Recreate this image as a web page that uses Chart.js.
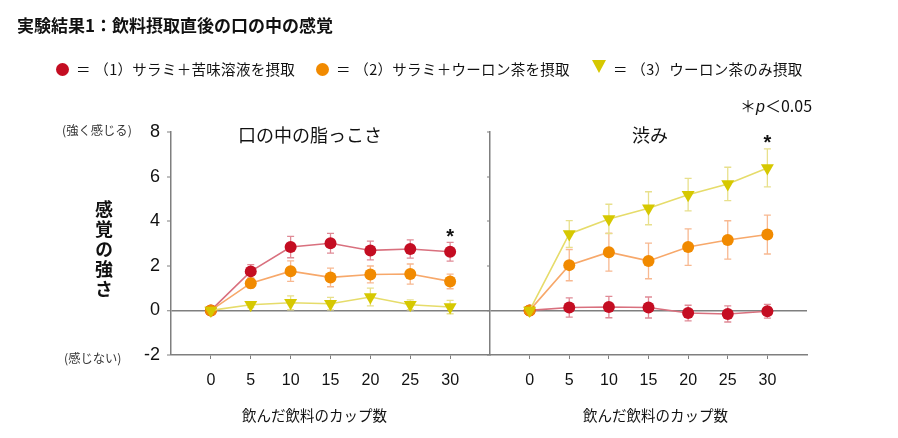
<!DOCTYPE html>
<html lang="ja">
<head>
<meta charset="utf-8">
<script src="https://cdn.jsdelivr.net/npm/chart.js@4.4.0/dist/chart.umd.min.js"></script>
<style>
    body { margin: 0; background: #fff; font-family: "Noto Sans CJK JP", sans-serif; }
    #wrap { position: relative; width: 898px; height: 438px; overflow: hidden; }
    #wrap canvas { position: absolute; left: 0; top: 0; }
    .t { position: absolute; white-space: nowrap; color: #111; line-height: 1; }
    .dot { position: absolute; width: 13px; height: 13px; border-radius: 50%; }
    .tri { position: absolute; width: 0; height: 0; border-left: 7px solid transparent; border-right: 7px solid transparent; border-top: 13px solid #d6c800; }
</style>
</head>
<body>
<div id="wrap">
    <canvas id="fatChart" width="898" height="438"></canvas>
    <canvas id="astrChart" width="898" height="438"></canvas>

    <div class="t" style="left:17px; top:16px; font-size:17px; font-weight:bold;">実験結果1：飲料摂取直後の口の中の感覚</div>

    <div class="dot" style="left:56px; top:63px; background:#c40d22;"></div>
    <div class="t" style="left:76px; top:62px; font-size:14.5px; letter-spacing:0.3px;">＝ （1）サラミ＋苦味溶液を摂取</div>
    <div class="dot" style="left:316px; top:63px; background:#f18a00;"></div>
    <div class="t" style="left:336px; top:62px; font-size:14.5px; letter-spacing:0.3px;">＝ （2）サラミ＋ウーロン茶を摂取</div>
    <div class="tri" style="left:592px; top:60px;"></div>
    <div class="t" style="left:613px; top:62px; font-size:14.5px; letter-spacing:0.3px;">＝ （3）ウーロン茶のみ摂取</div>

    <div class="t" style="left:740px; top:97px; font-size:16px;">＊<i style="font-family:'Liberation Sans';">p</i>＜0.05</div>

    <div class="t" style="left:62px; top:124px; font-size:12.3px; color:#333;">(強く感じる)</div>
    <div class="t" style="left:64px; top:352px; font-size:12.3px; color:#333;">(感じない)</div>
    <div class="t" style="left:95px; top:200px; font-size:18px; font-weight:bold; writing-mode:vertical-rl; letter-spacing:2px;">感覚の強さ</div>

    <div class="t" style="left:238px; top:125px; font-size:18px;">口の中の脂っこさ</div>
    <div class="t" style="left:632px; top:125px; font-size:18px;">渋み</div>

    <div class="t" style="left:242px; top:408px; font-size:14.5px;">飲んだ飲料のカップ数</div>
    <div class="t" style="left:583px; top:408px; font-size:14.5px;">飲んだ飲料のカップ数</div>
</div>

<script>
const cups = [0, 5, 10, 15, 20, 25, 30];
const yTicks = [-2, 0, 2, 4, 6, 8];

// 口の中の脂っこさ
const fatBitter = [0, 1.75, 2.84, 3.01, 2.69, 2.75, 2.63];
const fatBitterErr = [0, 0.3, 0.48, 0.44, 0.42, 0.41, 0.42];
const fatSalamiTea = [0, 1.22, 1.76, 1.48, 1.61, 1.63, 1.3];
const fatSalamiTeaErr = [0, 0.22, 0.46, 0.42, 0.38, 0.45, 0.33];
const fatTea = [0, 0.25, 0.34, 0.3, 0.6, 0.25, 0.15];
const fatTeaErr = [0, 0.12, 0.31, 0.28, 0.4, 0.22, 0.3];

// 渋み
const astrBitter = [0, 0.13, 0.15, 0.13, -0.12, -0.16, -0.04];
const astrBitterErr = [0, 0.43, 0.48, 0.47, 0.35, 0.36, 0.31];
const astrSalamiTea = [0, 2.03, 2.61, 2.22, 2.84, 3.16, 3.4];
const astrSalamiTeaErr = [0, 0.7, 0.85, 0.8, 0.82, 0.86, 0.87];
const astrTea = [0, 3.43, 4.1, 4.58, 5.19, 5.67, 6.39];
const astrTeaErr = [0, 0.6, 0.66, 0.74, 0.73, 0.75, 0.85];

// significance marks (cups, value)
const fatStars = [[30, 3.57]];
const astrStars = [[30, 7.78]];

const AXIS_GRAY = "#7f7f7f";

const errorBars = {
    id: "errorBars",
    beforeDatasetsDraw(chart) {
        const { ctx, scales: { x, y } } = chart;
        chart.data.datasets.forEach(ds => {
            ctx.save();
            ctx.strokeStyle = ds.errorColor;
            ctx.lineWidth = 1.3;
            ds.data.forEach((p, i) => {
                const e = ds.errors[i];
                if (!e) return;
                const px = x.getPixelForValue(p.x);
                const top = y.getPixelForValue(p.y + e);
                const bot = y.getPixelForValue(p.y - e);
                ctx.beginPath();
                ctx.moveTo(px, top); ctx.lineTo(px, bot);
                ctx.moveTo(px - 3.5, top); ctx.lineTo(px + 3.5, top);
                ctx.moveTo(px - 3.5, bot); ctx.lineTo(px + 3.5, bot);
                ctx.stroke();
            });
            ctx.restore();
        });
    },
    afterDatasetsDraw(chart) {
        const { ctx, scales: { x, y } } = chart;
        const stars = chart.options.plugins.errorBars.stars || [];
        ctx.save();
        ctx.fillStyle = "#111";
        ctx.font = "bold 20px 'Liberation Sans'";
        ctx.textAlign = "center";
        ctx.textBaseline = "alphabetic";
        stars.forEach(s => {
            ctx.fillText("*", x.getPixelForValue(s[0]), y.getPixelForValue(s[1]) + 12);
        });
        ctx.restore();
    }
};

function series(values, errors, color, lineColor, errorColor, isTriangle, order) {
    return {
        data: cups.map((c, i) => ({ x: c, y: values[i] })),
        errors: errors,
        errorColor: errorColor,
        borderColor: lineColor,
        borderWidth: 1.6,
        backgroundColor: color,
        pointBackgroundColor: color,
        pointBorderColor: color,
        pointBorderWidth: 0,
        pointStyle: isTriangle ? "triangle" : "circle",
        rotation: isTriangle ? 180 : 0,
        pointRadius: isTriangle ? 7.5 : 6,
        tension: 0,
        order: order
    };
}

function makePanel(canvasId, bitter, bitterErr, salamiTea, salamiTeaErr, tea, teaErr, stars, yWidth, rightPad, showYLabels) {
    return new Chart(document.getElementById(canvasId), {
        type: "line",
        data: {
            datasets: [
                series(bitter, bitterErr, "#c40d22", "#d9707e", "#e08a96", false, 2),
                series(salamiTea, salamiTeaErr, "#f18a00", "#f7a86a", "#f8b890", false, 1),
                series(tea, teaErr, "#d6c800", "#e6dc6a", "#e8e08c", true, 0)
            ]
        },
        options: {
            responsive: false,
            animation: false,
            events: [],
            layout: { padding: { top: 132, right: rightPad, bottom: 0, left: 0 } },
            plugins: {
                legend: { display: false },
                tooltip: { enabled: false },
                errorBars: { stars: stars }
            },
            scales: {
                x: {
                    type: "linear",
                    min: -5,
                    max: 35,
                    afterBuildTicks: s => { s.ticks = cups.map(v => ({ value: v })); },
                    afterFit: s => { s.height = 438 - 355; },
                    border: { display: true, color: AXIS_GRAY, width: 1.5 },
                    grid: { drawOnChartArea: false, drawTicks: true, tickLength: 4, tickColor: AXIS_GRAY, tickWidth: 1 },
                    ticks: { color: "#111", padding: 12, maxRotation: 0, font: { family: "'Liberation Sans'", size: 16 } }
                },
                y: {
                    type: "linear",
                    min: -2,
                    max: 8,
                    afterBuildTicks: s => { s.ticks = yTicks.map(v => ({ value: v })); },
                    afterFit: s => { s.width = yWidth; },
                    border: { display: true, color: AXIS_GRAY, width: 1.5 },
                    grid: {
                        drawOnChartArea: true,
                        color: c => (c.tick && c.tick.value === 0 ? AXIS_GRAY : "rgba(0,0,0,0)"),
                        lineWidth: c => (c.tick && c.tick.value === 0 ? 1.5 : 0),
                        drawTicks: true,
                        tickLength: showYLabels ? 4 : 3,
                        tickColor: AXIS_GRAY,
                        tickWidth: 1
                    },
                    ticks: {
                        display: showYLabels,
                        color: "#111",
                        padding: 7,
                        font: { family: "'Liberation Sans'", size: 18 }
                    }
                }
            }
        },
        plugins: [errorBars]
    });
}

makePanel("fatChart", fatBitter, fatBitterErr, fatSalamiTea, fatSalamiTeaErr, fatTea, fatTeaErr, fatStars, 171, 898 - 490, true);
makePanel("astrChart", astrBitter, astrBitterErr, astrSalamiTea, astrSalamiTeaErr, astrTea, astrTeaErr, astrStars, 490, 898 - 807, false);
</script>
</body>
</html>
